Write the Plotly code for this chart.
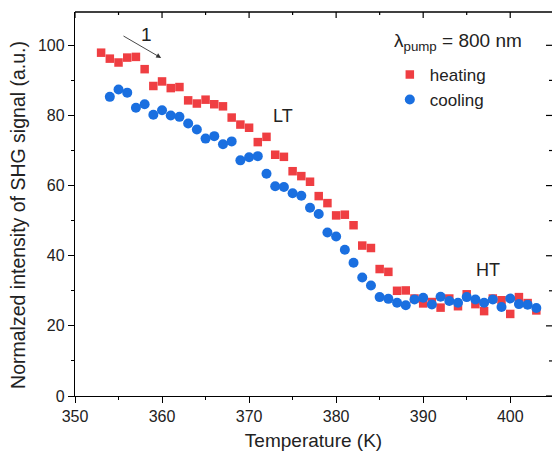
import plotly.graph_objects as go

# Temperature grid (K) for the two sweeps
temp_heating = list(range(353, 404))
temp_cooling = list(range(354, 404))

# Normalized SHG intensity, heating sweep (353 ... 403 K)
shg_heating = [
    97.9, 96.2, 95.1, 96.5, 96.7, 93.2, 88.4, 89.7, 87.8, 88.1,
    84.3, 83.4, 84.5, 83.2, 82.6, 79.4, 77.4, 76.5, 72.4, 73.9,
    68.8, 68.2, 64.1, 62.7, 61.1, 57.0, 55.0, 51.5, 51.7, 48.7,
    42.9, 42.2, 36.2, 35.4, 30.0, 30.1, 27.8, 26.4, 26.8, 25.2,
    27.8, 25.6, 29.0, 26.2, 24.2, 27.8, 27.3, 23.4, 28.2, 26.5,
    24.4,
]

# Normalized SHG intensity, cooling sweep (354 ... 403 K)
shg_cooling = [
    85.3, 87.4, 86.5, 82.2, 83.2, 80.2, 81.5, 80.0, 79.6, 77.7,
    76.0, 73.4, 74.1, 71.8, 72.6, 67.2, 68.1, 68.4, 63.4, 59.8,
    59.6, 57.8, 57.1, 53.7, 51.9, 46.6, 45.5, 41.7, 38.0, 33.8,
    31.5, 28.2, 27.7, 26.6, 25.9, 27.5, 28.0, 26.1, 28.3, 27.1,
    26.6, 28.2, 27.5, 26.6, 27.5, 25.4, 27.8, 26.2, 26.0, 25.1,
]

RED = "#EF3E42"
BLUE = "#1A6FE0"
FONT = "Liberation Sans, Arial, sans-serif"

X_RANGE = [350, 404.8]
Y_RANGE = [0, 109.5]
PLOT_W, PLOT_H = 477, 384  # plot-area size in px (for tick lengths)

fig = go.Figure()
fig.add_trace(go.Scatter(
    x=temp_heating, y=shg_heating, mode="markers", name="heating",
    marker=dict(symbol="square", size=8.5, color=RED, line=dict(width=0)),
))
fig.add_trace(go.Scatter(
    x=temp_cooling, y=shg_cooling, mode="markers", name="cooling",
    marker=dict(symbol="circle", size=10, color=BLUE, line=dict(width=0)),
))

axis_common = dict(
    showgrid=False, zeroline=False, linecolor="black", linewidth=1.3,
    tickcolor="black", tickwidth=1.2,
    tickfont=dict(family=FONT, size=16, color="#222"),
)

fig.update_layout(
    width=552, height=456,
    margin=dict(l=75, r=0, t=12, b=60),
    paper_bgcolor="white", plot_bgcolor="white",
    font=dict(family=FONT, color="#222"),
    xaxis=dict(
        **axis_common, range=X_RANGE, showline=True, ticks="outside",
        ticklen=6, dtick=10, tick0=350,
        minor=dict(dtick=5, ticks="outside", ticklen=3, tickcolor="black"),
        title=dict(text="Temperature (K)", font=dict(family=FONT, size=19, color="#222"),
                   standoff=9),
    ),
    yaxis=dict(
        **axis_common, range=Y_RANGE, showline=True, ticks="outside",
        ticklen=6, dtick=20, tick0=0,
        minor=dict(dtick=10, ticks="outside", ticklen=3, tickcolor="black"),
    ),
    legend=dict(
        x=0.66, y=0.883, xanchor="left", yanchor="top",
        font=dict(family=FONT, size=17, color="#222"),
        bgcolor="rgba(0,0,0,0)", tracegroupgap=0,
    ),
    showlegend=True,
)

# Top frame line with inward ticks, and inward ticks along the right edge
frame = [dict(type="line", xref="paper", yref="paper", x0=0, x1=1, y0=1, y1=1,
              line=dict(color="black", width=1.3))]
for t in range(350, 405, 5):
    tl = 6 if t % 10 == 0 else 3
    frame.append(dict(type="line", xref="x", yref="paper", x0=t, x1=t,
                      y0=1, y1=1 - tl / PLOT_H, line=dict(color="black", width=1.2)))
for v in range(0, 110, 10):
    tl = 6 if v % 20 == 0 else 3
    frame.append(dict(type="line", xref="paper", yref="y", x0=1, x1=1 - tl / PLOT_W,
                      y0=v, y1=v, line=dict(color="black", width=1.2)))
fig.update_layout(shapes=frame)

annotations = [
    # y-axis title
    dict(x=-0.12, y=0.471, xref="paper", yref="paper", xanchor="center",
         yanchor="middle", showarrow=False, textangle=-90,
         text="Normalzed intensity of SHG signal (a.u.)",
         font=dict(family=FONT, size=19.5, color="#222")),
    dict(x=0.803, y=0.922, xref="paper", yref="paper", xanchor="center",
         yanchor="middle", showarrow=False,
         text="λ<sub>pump</sub> = 800 nm", font=dict(family=FONT, size=19, color="#222")),
    dict(x=373.9, y=79.8, xref="x", yref="y", showarrow=False, text="LT",
         font=dict(family=FONT, size=18, color="#222")),
    dict(x=397.5, y=35.8, xref="x", yref="y", showarrow=False, text="HT",
         font=dict(family=FONT, size=18, color="#222")),
    dict(x=358.2, y=103.0, xref="x", yref="y", showarrow=False, text="1",
         font=dict(family=FONT, size=19, color="#222")),
    dict(x=359.9, y=96.4, ax=355.4, ay=102.9, xref="x", yref="y",
         axref="x", ayref="y", showarrow=True, text="", arrowhead=2,
         arrowsize=1.1, arrowwidth=0.9, arrowcolor="#333"),
]
fig.update_layout(annotations=annotations)

fig.write_html("out.html")
